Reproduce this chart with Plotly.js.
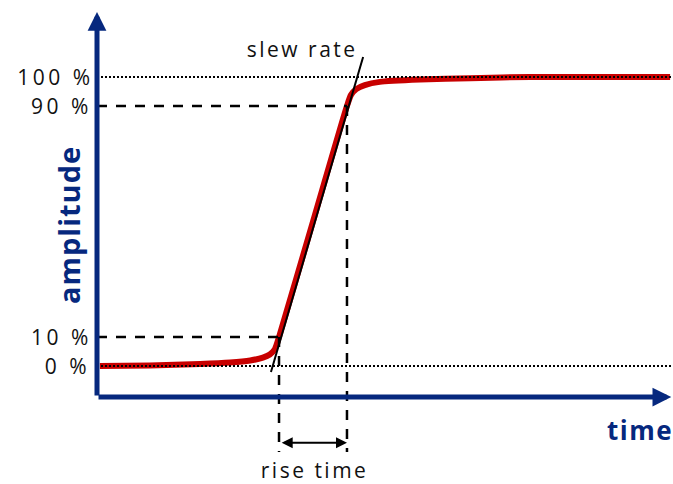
<!DOCTYPE html>
<html>
<head>
<meta charset="utf-8">
<script src="https://cdn.plot.ly/plotly-3.0.1.min.js"></script>
<style>
  html, body { margin: 0; padding: 0; background: #fff; }
  #chart { width: 673px; height: 484px; }
  g.annotation[data-index="3"] text, g.annotation[data-index="4"] text { letter-spacing: 2.5px; }
  g.annotation[data-index="5"] text { letter-spacing: 1.5px; }
  g.annotation[data-index="6"] text { letter-spacing: 1px; }
  g.annotation[data-index="7"] text, g.annotation[data-index="8"] text,
  g.annotation[data-index="9"] text, g.annotation[data-index="10"] text { letter-spacing: 3.5px; }
</style>
</head>
<body>
<div id="chart"></div>
<script>
// ---- data (time in arbitrary units 0..100, amplitude in %) ----
const curveTime = [0.5, 9.2, 17.9, 23.1, 26.6, 28.8, 30.0, 30.9, 31.6, 37.5, 43.4, 44.1, 45.0, 46.5, 49.1, 56.1, 64.8, 75.2, 99.5];
const curveAmp  = [0,   0.2, 0.7,  1.2,  1.9,  2.9,  4.0,  5.9,  10,   50,   90,   93.8, 95.8, 97.2, 98.3, 99.1, 99.6, 100,  100];

const levelValues = [0, 10, 90, 100];
const levelLabels = ['0 %', '10 %', '90 %', '100 %'];

const riseStart = 31.6;   // time at 10 %
const riseEnd = 43.4;     // time at 90 %

const slewTime = [30.2, 46.2];
const slewAmp = [-2.1, 106.9];

const timeMax = 100;
const markerLow = -29.8;  // lower end of the dashed time markers
const arrowLevel = -26.6; // level of the rise-time arrow

const navy = '#06287e';
const font = 'Open Sans, sans-serif';

const traces = [
  { x: curveTime, y: curveAmp, mode: 'lines', line: { color: '#c80000', width: 6, shape: 'spline', smoothing: 0.6 }, hoverinfo: 'skip' },
  // dashed reference lines
  { x: [0, riseStart], y: [levelValues[1], levelValues[1]], mode: 'lines', line: { color: '#000', width: 2.5, dash: '10px,9px' } },
  { x: [0, riseEnd], y: [levelValues[2], levelValues[2]], mode: 'lines', line: { color: '#000', width: 2.5, dash: '10px,9px' } },
  { x: [riseStart, riseStart], y: [levelValues[1], markerLow], mode: 'lines', line: { color: '#000', width: 2.5, dash: '10px,9px' } },
  { x: [riseEnd, riseEnd], y: [levelValues[2], markerLow], mode: 'lines', line: { color: '#000', width: 2.5, dash: '10px,9px' } },
  // dotted 0 % and 100 %
  { x: [0, timeMax], y: [levelValues[0], levelValues[0]], mode: 'lines', line: { color: '#000', width: 2, dash: '2px,2px' } },
  { x: [0, timeMax], y: [levelValues[3], levelValues[3]], mode: 'lines', line: { color: '#000', width: 2, dash: '2px,2px' } },
  // slew rate tangent
  { x: slewTime, y: slewAmp, mode: 'lines', line: { color: '#000', width: 2 } }
];

const annotations = [
  // y axis arrow
  { xref: 'x', yref: 'y', axref: 'x', ayref: 'y', x: 0, y: 122.5, ax: 0, ay: -10.73, text: '', showarrow: true,
    arrowhead: 2, arrowsize: 0.75, arrowwidth: 5, arrowcolor: navy },
  // x axis arrow
  { xref: 'x', yref: 'y', axref: 'x', ayref: 'y', x: 99.7, y: -10.73, ax: 0, ay: -10.73, text: '', showarrow: true,
    arrowhead: 2, arrowsize: 0.75, arrowwidth: 5, arrowcolor: navy },
  // rise time arrow
  { xref: 'x', yref: 'y', axref: 'x', ayref: 'y', x: riseEnd, y: arrowLevel, ax: riseStart + 0.2, ay: arrowLevel, text: '', showarrow: true,
    arrowhead: 2, startarrowhead: 2, arrowside: 'end+start', arrowsize: 1.1, startarrowsize: 1.1, arrowwidth: 2, arrowcolor: '#000' },
  { xref: 'x', yref: 'y', x: 35.6, y: 109.7, xanchor: 'center', yanchor: 'middle', text: 'slew rate', showarrow: false,
    font: { family: font, size: 21, color: '#111' } },
  { xref: 'x', yref: 'y', x: 37.7, y: -36.1, xanchor: 'center', yanchor: 'middle', text: 'rise time', showarrow: false,
    font: { family: font, size: 21, color: '#111' } },
  { xref: 'x', yref: 'y', x: 94.3, y: -22.0, xanchor: 'center', yanchor: 'middle', text: '<b>time</b>', showarrow: false,
    font: { family: font, size: 26, color: navy } },
  { xref: 'paper', yref: 'y', x: -0.0493, y: 48.8, xanchor: 'center', yanchor: 'middle', text: '<b>amplitude</b>', showarrow: false, textangle: -90,
    font: { family: font, size: 29, color: navy } }
];
// level labels on the amplitude axis
levelValues.forEach((v, i) => {
  annotations.push({ xref: 'paper', yref: 'y', x: -0.0175, y: v, xanchor: 'right', yanchor: 'middle',
    text: levelLabels[i], showarrow: false, font: { family: font, size: 21, color: '#111' } });
});

const layout = {
  width: 673, height: 484,
  margin: { l: 97, r: 0, t: 0, b: 0 },
  paper_bgcolor: '#fff', plot_bgcolor: '#fff',
  showlegend: false,
  xaxis: { range: [0, timeMax], visible: false, fixedrange: true },
  yaxis: { range: [-40.83, 126.64], visible: false, fixedrange: true },
  annotations: annotations
};

Plotly.newPlot('chart', traces, layout, { staticPlot: true, displayModeBar: false });
</script>
</body>
</html>
